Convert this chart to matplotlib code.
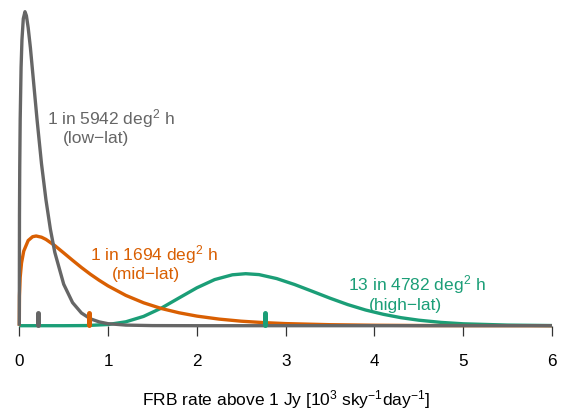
import matplotlib.pyplot as plt

plt.rcParams['font.family'] = ['Liberation Sans', 'DejaVu Sans']
plt.rcParams['mathtext.fontset'] = 'custom'
plt.rcParams['mathtext.rm'] = 'Liberation Sans'
plt.rcParams['mathtext.it'] = 'Liberation Sans:italic'
plt.rcParams['mathtext.bf'] = 'Liberation Sans:bold'

# FRB rate (10^3 sky^-1 day^-1) and relative posterior height
low_x = [0, 0.002, 0.005, 0.01, 0.02, 0.03, 0.045, 0.064, 0.08, 0.1, 0.125, 0.15,
         0.175, 0.2, 0.25, 0.3, 0.35, 0.4, 0.5, 0.6, 0.7, 0.8, 0.9, 1.0, 1.2, 1.5, 2.0, 6.0]
low_y = [0, 110, 159, 206, 258, 286, 307, 314, 310, 298, 278, 254,
         230, 206, 162, 126, 96.5, 73.3, 41.5, 23.1, 12.7, 6.9, 3.8, 2.0, 0.6, 0.1, 0, 0]

mid_x = [0, 0.002, 0.01, 0.025, 0.05, 0.1, 0.15, 0.19, 0.25, 0.3, 0.4, 0.5, 0.6, 0.7,
         0.8, 0.9, 1.0, 1.2, 1.4, 1.6, 1.8, 2.0, 2.25, 2.5, 2.75, 3.0, 3.5, 4.0, 4.5, 5.0, 6.0]
mid_y = [0, 29.8, 48.4, 62.7, 74.6, 85.2, 89.0, 89.7, 88.5, 86.3, 80.1, 72.8, 65.4, 58.2,
         51.5, 45.4, 39.8, 30.3, 22.9, 17.2, 12.9, 9.6, 6.6, 4.5, 3.1, 2.1, 1.0, 0.45, 0.2, 0.1, 0]

high_x = [0, 0.5, 0.75, 1.0, 1.2, 1.4, 1.6, 1.8, 2.0, 2.2, 2.4, 2.55, 2.7, 2.9, 3.1,
          3.3, 3.5, 3.7, 3.9, 4.1, 4.3, 4.5, 4.75, 5.0, 5.5, 6.0]
high_y = [0, 0, 0.13, 1.2, 3.9, 9.3, 17.6, 27.8, 37.9, 46.1, 50.9, 52.0, 51.1, 47.1, 41.2,
          34.4, 27.5, 21.1, 15.7, 11.4, 8.0, 5.5, 3.3, 1.9, 0.6, 0.15]

mean_rates = [0.215, 0.78, 2.77]

line1 = ['1 in 5942 deg$^2$ h', '1 in 1694 deg$^2$ h', '13 in 4782 deg$^2$ h']
line2 = ['(low\u2212lat)', '(mid\u2212lat)', '(high\u2212lat)']

cols = ['#666666', '#D95F02', '#1B9E77']

fig = plt.figure(figsize=(5.7, 4.1), dpi=100)
ax = fig.add_axes([19.3 / 570, 83.3 / 410, 532.7 / 570, 316.7 / 410])

# draw order: high, mid, low so grey sits on the baseline
ax.plot(high_x, high_y, color=cols[2], lw=2.4, clip_on=False, solid_capstyle='butt')
ax.plot(mid_x, mid_y, color=cols[1], lw=2.4, clip_on=False, solid_capstyle='butt')
ax.plot(low_x, low_y, color=cols[0], lw=2.4, clip_on=False, solid_capstyle='butt')

for m, c in zip(mean_rates, cols):
    ax.plot([m, m], [1.0, 12.5], color=c, lw=3.6, solid_capstyle='round', clip_on=False)

# labels (centre x, baseline y) for the two lines
pos1 = [(1.033, 202.7), (1.522, 66.7), (4.475, 36.7)]
pos2 = [(0.864, 183.7), (1.421, 47.7), (4.347, 16.7)]
for i in range(3):
    ax.text(pos1[i][0], pos1[i][1], line1[i], color=cols[i], fontsize=12.5,
            ha='center', va='baseline')
    ax.text(pos2[i][0], pos2[i][1], line2[i], color=cols[i], fontsize=12.5,
            ha='center', va='baseline')

ax.set_xlim(0, 6)
ax.set_ylim(0, 316.7)
ax.set_xticks(range(7))
ax.set_yticks([])
for s in ax.spines.values():
    s.set_visible(False)
ax.tick_params(axis='x', length=7.3, width=0.9, color='#333333', pad=12,
               labelsize=12.3, labelcolor='black')

fig.text(286 / 570, 4.5 / 410, 'FRB rate above 1 Jy [10$^3$ sky$^{-1}$day$^{-1}$]',
         ha='center', va='baseline', fontsize=12.5)

fig.savefig('out.png', dpi=100)
